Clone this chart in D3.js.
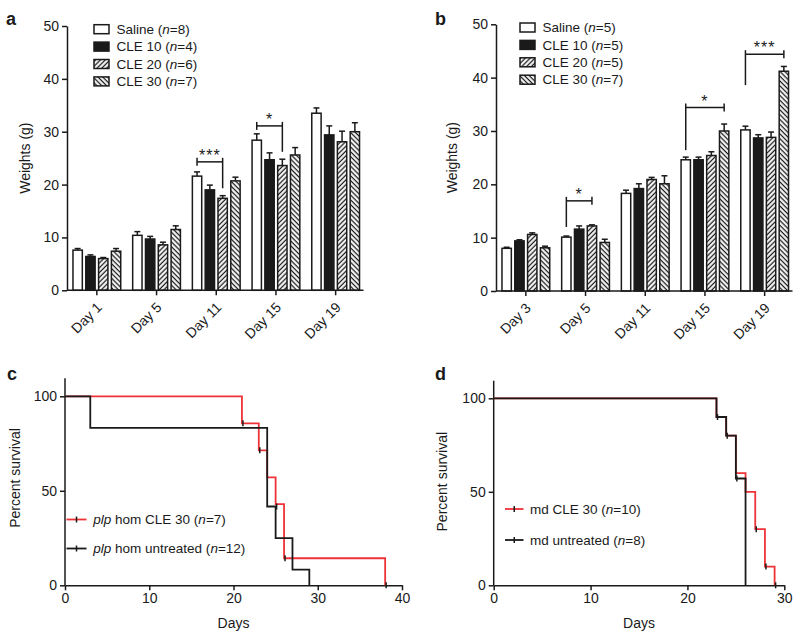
<!DOCTYPE html>
<html><head><meta charset="utf-8">
<script src="https://cdn.jsdelivr.net/npm/d3@7"></script>
<style>
body{margin:0;background:#fff}
svg{display:block}
text{font-family:"Liberation Sans",Arial,Helvetica,sans-serif;fill:#1a1a1a}
</style>
</head><body>
<svg id="chart" width="800" height="635"></svg>
<script>
// ---------- DATA ----------
const daysA = ["Day 1","Day 5","Day 11","Day 15","Day 19"];
const daysB = ["Day 3","Day 5","Day 11","Day 15","Day 19"];
const seriesNames = ["Saline","CLE 10","CLE 20","CLE 30"];
const nA = [8,4,6,7];
const nB = [5,5,5,7];
const weightTicks = [0,10,20,30,40,50];

const salineA = [7.6,10.4,21.6,28.4,33.5];
const salineErrA = [0.3,0.7,0.8,1.2,1.0];
const cle10A = [6.4,9.7,19.0,24.7,29.4];
const cle10ErrA = [0.3,0.5,0.9,1.3,1.7];
const cle20A = [6.0,8.6,17.4,23.6,28.1];
const cle20ErrA = [0.2,0.5,0.5,1.2,2.0];
const cle30A = [7.4,11.5,20.7,25.6,30.0];
const cle30ErrA = [0.5,0.7,0.7,1.4,1.7];

const salineB = [8.0,10.1,18.3,24.6,30.2];
const salineErrB = [0.2,0.2,0.6,0.5,0.7];
const cle10B = [9.4,11.6,19.2,24.6,28.7];
const cle10ErrB = [0.2,0.6,0.9,0.5,0.6];
const cle20B = [10.6,12.2,20.9,25.4,28.8];
const cle20ErrB = [0.3,0.2,0.4,0.7,1.0];
const cle30B = [8.1,9.1,20.1,30.0,41.2];
const cle30ErrB = [0.3,0.6,1.5,1.3,0.9];

// significance brackets: group index, from series, to series, bar level, long-leg end level
const sigGroupA = [2,3];
const sigFromA = [0,0];
const sigToA = [2,2];
const sigLevelA = [24.3,31.1];
const sigLegEndA = [19.3,26.2];
const sigLongLegA = ["right","right"];
const sigLabelA = ["***","*"];

const sigGroupB = [1,3,4];
const sigFromB = [0,0,0];
const sigToB = [2,3,3];
const sigLevelB = [16.9,34.4,44.4];
const sigLegEndB = [12.0,26.4,38.6];
const sigLongLegB = ["left","left","left"];
const sigLabelB = ["*","*","***"];

// survival curves
const survTicks = [0,50,100];
const daysTicksC = [0,10,20,30,40];
const daysTicksD = [0,10,20,30];
const cRedTimes = [0,21,23,24,25,26,38];
const cRedSurv  = [100,85.7,71.4,57.1,42.9,14.3,0];
const cRedCensorT = [21,23,26,38];
const cRedCensorS = [85.7,71.4,14.3,0];
const cBlackTimes = [0,3,24,25,27,29];
const cBlackSurv  = [100,83.3,41.7,25,8.3,0];
const cBlackCensorT = [25];
const cBlackCensorS = [41.7];

const dRedTimes = [0,23,24,25,26,27,28,29];
const dRedSurv  = [100,90,80,60,50,30,10,0];
const dRedCensorT = [27,28,29];
const dRedCensorS = [30,10,0];
const dBlackTimes = [0,23,24,25,26];
const dBlackSurv  = [100,90,80,57.1,0];
const dBlackCensorT = [23,24,25];
const dBlackCensorS = [90,80,57.1];

// ---------- DRAW ----------
const svg = d3.select("#chart");
const INK = "#1a1a1a";
const RED = "#ee3338";
const defs = svg.append("defs");
function hatch(id, angle){
  const p = defs.append("pattern").attr("id", id).attr("patternUnits","userSpaceOnUse")
    .attr("width",3.4).attr("height",3.4).attr("patternTransform",`rotate(${angle})`);
  p.append("rect").attr("width",3.4).attr("height",3.4).attr("fill","#fff");
  p.append("line").attr("x1",1.2).attr("x2",1.2).attr("y1",0).attr("y2",3.4)
    .attr("stroke",INK).attr("stroke-width",1.3);
}
hatch("h20",45);
hatch("h30",-45);
const fills = ["#fff", INK, "url(#h20)", "url(#h30)"];

function barPanel(opt){
  const g = svg.append("g");
  const x = d3.scaleBand().domain(opt.days).range([opt.x0, opt.x1]).paddingInner(0.2).paddingOuter(0.1);
  const xi = d3.scaleBand().domain(d3.range(4)).range([0, x.bandwidth()]).paddingInner(0.27);
  const y = d3.scaleLinear().domain([0,50]).range([opt.yb, opt.yt]);
  const means = opt.means, errs = opt.errs;

  // bars
  opt.days.forEach((d,gi)=>{
    for(let s=0;s<4;s++){
      const v = means[s][gi], e = errs[s][gi];
      const bx = x(d)+xi(s), bw = xi.bandwidth(), cx = bx + bw/2;
      g.append("line").attr("x1",cx).attr("x2",cx).attr("y1",y(v)).attr("y2",y(v+e))
        .attr("stroke",INK).attr("stroke-width",1.5);
      g.append("line").attr("x1",cx-3).attr("x2",cx+3).attr("y1",y(v+e)).attr("y2",y(v+e))
        .attr("stroke",INK).attr("stroke-width",1.5);
      g.append("rect").attr("x",bx).attr("y",y(v)).attr("width",bw).attr("height",y(0)-y(v))
        .attr("fill",fills[s]).attr("stroke",INK).attr("stroke-width",1.5);
    }
  });

  // axes
  const ya = d3.axisLeft(y).tickValues(weightTicks).tickSize(5).tickSizeOuter(0).tickPadding(3);
  const gy = g.append("g").attr("transform",`translate(${opt.x0},0)`).call(ya);
  gy.selectAll("text").style("font-size","14px");
  gy.selectAll("path,line").attr("stroke",INK).attr("stroke-width",1.5);

  g.append("line").attr("x1",opt.x0).attr("x2",opt.x1-2).attr("y1",y(0)).attr("y2",y(0))
    .attr("stroke",INK).attr("stroke-width",1.5);
  opt.days.forEach(d=>{
    const cx = x(d)+x.bandwidth()/2;
    g.append("line").attr("x1",cx).attr("x2",cx).attr("y1",y(0)).attr("y2",y(0)+5)
      .attr("stroke",INK).attr("stroke-width",1.5);
    g.append("text").attr("transform",`translate(${cx+6},${y(0)+18}) rotate(-45)`)
      .attr("text-anchor","end").style("font-size","14px").text(d);
  });

  g.append("text").attr("transform",`translate(${opt.titleX},${(y(0)+y(50))/2}) rotate(-90)`)
    .attr("text-anchor","middle").attr("dy","0.35em").style("font-size","14px").text("Weights (g)");

  // significance
  opt.sig.group.forEach((gi,k)=>{
    const d = opt.days[gi];
    const xa = x(d)+xi(opt.sig.from[k])+xi.bandwidth()/2;
    const xb = x(d)+xi(opt.sig.to[k])+xi.bandwidth()/2;
    const yl = y(opt.sig.level[k]), ye = y(opt.sig.legEnd[k]);
    const longX = opt.sig.longLeg[k]==="right" ? xb : xa;
    const shortX = opt.sig.longLeg[k]==="right" ? xa : xb;
    g.append("line").attr("x1",xa).attr("x2",xb).attr("y1",yl).attr("y2",yl).attr("stroke",INK).attr("stroke-width",1.5);
    g.append("line").attr("x1",shortX).attr("x2",shortX).attr("y1",yl-4).attr("y2",yl+4).attr("stroke",INK).attr("stroke-width",1.5);
    g.append("line").attr("x1",longX).attr("x2",longX).attr("y1",yl-4).attr("y2",ye).attr("stroke",INK).attr("stroke-width",1.5);
    g.append("text").attr("x",(xa+xb)/2).attr("y",yl-1).attr("text-anchor","middle")
      .style("font-size","16px").style("letter-spacing","1px").text(opt.sig.label[k]);
  });

  // legend
  seriesNames.forEach((nm,s)=>{
    const ly = opt.legY + s*17.4;
    g.append("rect").attr("x",opt.legX).attr("y",ly-4.5).attr("width",15).attr("height",9)
      .attr("fill",fills[s]).attr("stroke",INK).attr("stroke-width",1.5);
    const t = g.append("text").attr("x",opt.legX+22.5).attr("y",ly).attr("dy","0.35em").style("font-size","13.5px");
    t.append("tspan").text(nm+" (");
    t.append("tspan").style("font-style","italic").text("n");
    t.append("tspan").text("="+opt.n[s]+")");
  });

  g.append("text").attr("x",opt.labX).attr("y",25).style("font-size","18px").style("font-weight","bold").text(opt.label);
}

barPanel({days:daysA, x0:67, x1:365.5, yb:290.3, yt:26, titleX:25,
  means:[salineA,cle10A,cle20A,cle30A], errs:[salineErrA,cle10ErrA,cle20ErrA,cle30ErrA],
  sig:{group:sigGroupA, from:sigFromA, to:sigToA, level:sigLevelA, legEnd:sigLegEndA, longLeg:sigLongLegA, label:sigLabelA},
  n:nA, legX:94, legY:29.2, label:"a", labX:6});

barPanel({days:daysB, x0:496, x1:794.5, yb:291, yt:24.3, titleX:452,
  means:[salineB,cle10B,cle20B,cle30B], errs:[salineErrB,cle10ErrB,cle20ErrB,cle30ErrB],
  sig:{group:sigGroupB, from:sigFromB, to:sigToB, level:sigLevelB, legEnd:sigLegEndB, longLeg:sigLongLegB, label:sigLabelB},
  n:nB, legX:520, legY:27.5, label:"b", labX:435});

function survPanel(opt){
  const g = svg.append("g");
  const x = d3.scaleLinear().domain([0,opt.xmax]).range([opt.x0,opt.x1]);
  const y = d3.scaleLinear().domain([0,100]).range([opt.yb,opt.y100]);
  const topY = opt.yTop;

  const ya = d3.axisLeft(y).tickValues(survTicks).tickSize(5).tickSizeOuter(0).tickPadding(3);
  const gy = g.append("g").attr("transform",`translate(${opt.x0},0)`).call(ya);
  gy.select("path").remove();
  gy.selectAll("text").style("font-size","14px");
  gy.selectAll("line").attr("stroke",INK).attr("stroke-width",1.5);
  g.append("line").attr("x1",opt.x0).attr("x2",opt.x0).attr("y1",opt.yb).attr("y2",topY).attr("stroke",INK).attr("stroke-width",1.5);

  const xa = d3.axisBottom(x).tickValues(opt.ticks).tickSize(5).tickSizeOuter(0).tickPadding(3);
  const gx = g.append("g").attr("transform",`translate(0,${opt.yb})`).call(xa);
  gx.selectAll("text").style("font-size","14px");
  gx.selectAll("path,line").attr("stroke",INK).attr("stroke-width",1.5);

  g.append("text").attr("x",(opt.x0+opt.x1)/2).attr("y",opt.yb+43).attr("text-anchor","middle").style("font-size","14px").text("Days");
  g.append("text").attr("transform",`translate(${opt.titleX},${opt.titleY}) rotate(-90)`)
    .attr("text-anchor","middle").attr("dy","0.35em").style("font-size","14px").text("Percent survival");

  const line = d3.line().x(d=>x(d[0])).y(d=>y(d[1])).curve(d3.curveStepAfter);
  opt.curves.forEach(c=>{
    const pts = c.t.map((t,i)=>[t,c.s[i]]);
    g.append("path").attr("d",line(pts)).attr("fill","none").attr("stroke",c.color).attr("stroke-width",1.8);
  });
  opt.curves.forEach(c=>{
    c.ct.forEach((t,i)=>{
      g.append("line").attr("x1",x(t)+1).attr("x2",x(t)+1).attr("y1",y(c.cs[i])-3).attr("y2",y(c.cs[i])+3)
        .attr("stroke",INK).attr("stroke-width",1.5);
    });
  });

  // legend
  opt.curves.forEach((c,i)=>{
    const ly = opt.legY[i];
    g.append("line").attr("x1",opt.legX).attr("x2",opt.legX+opt.legW).attr("y1",ly).attr("y2",ly).attr("stroke",c.color).attr("stroke-width",1.8);
    g.append("line").attr("x1",opt.legX+opt.legW/2).attr("x2",opt.legX+opt.legW/2).attr("y1",ly-3).attr("y2",ly+3).attr("stroke",INK).attr("stroke-width",1.5);
    const t = g.append("text").attr("x",opt.legTX).attr("y",ly).attr("dy","0.35em").style("font-size","13.5px");
    c.label.forEach(p=>{ t.append("tspan").style("font-style",p[1]?"italic":"normal").text(p[0]); });
  });

  g.append("text").attr("x",opt.labX).attr("y",opt.labY).style("font-size","18px").style("font-weight","bold").text(opt.label);
}

survPanel({xmax:40, x0:65, x1:402, yb:585.3, y100:396.3, yTop:378.3, ticks:daysTicksC,
  titleX:15, titleY:478,
  curves:[
    {t:cRedTimes, s:cRedSurv, ct:cRedCensorT, cs:cRedCensorS, color:RED,
     label:[["plp",true],[" hom CLE 30 (",false],["n",true],["=7)",false]]},
    {t:cBlackTimes, s:cBlackSurv, ct:cBlackCensorT, cs:cBlackCensorS, color:INK,
     label:[["plp",true],[" hom untreated (",false],["n",true],["=12)",false]]}
  ],
  legX:66.5, legW:20, legTX:93.3, legY:[519.5,548.5], label:"c", labX:7, labY:380});

survPanel({xmax:30, x0:493.7, x1:784.3, yb:585.3, y100:398.3, yTop:380.7, ticks:daysTicksD,
  titleX:442.5, titleY:481.7,
  curves:[
    {t:dRedTimes, s:dRedSurv, ct:dRedCensorT, cs:dRedCensorS, color:RED,
     label:[["md CLE 30 (",false],["n",true],["=10)",false]]},
    {t:dBlackTimes, s:dBlackSurv, ct:dBlackCensorT, cs:dBlackCensorS, color:INK,
     label:[["md untreated (",false],["n",true],["=8)",false]]}
  ],
  legX:505, legW:18.5, legTX:530, legY:[509,540], label:"d", labX:435, labY:380});
</script>
</body></html>
